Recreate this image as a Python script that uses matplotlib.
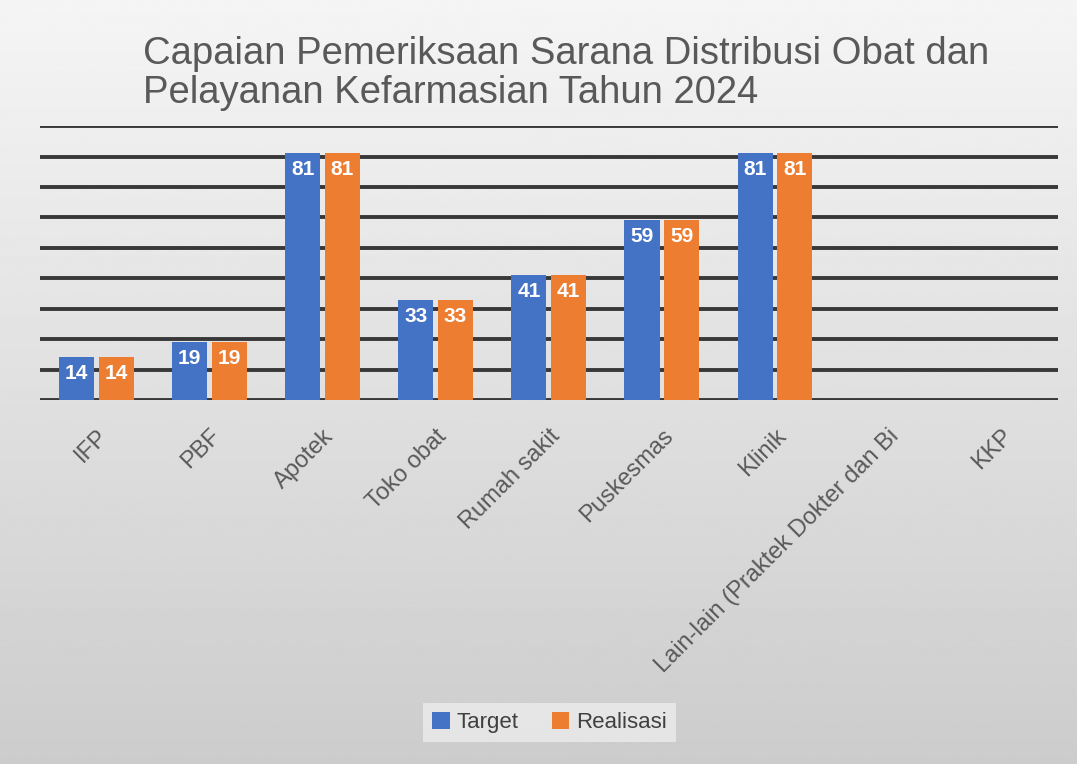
import matplotlib.pyplot as plt
import numpy as np

kategori = ["IFP", "PBF", "Apotek", "Toko obat", "Rumah sakit", "Puskesmas",
            "Klinik", "Lain-lain (Praktek Dokter dan Bi", "KKP"]
target = [14, 19, 81, 33, 41, 59, 81, 0, 0]
realisasi = [14, 19, 81, 33, 41, 59, 81, 0, 0]

plt.rcParams['font.family'] = ['Liberation Sans', 'DejaVu Sans']

fig = plt.figure(figsize=(10.77, 7.64), dpi=100)

# latar belakang gradasi
bg = fig.add_axes([0, 0, 1, 1], zorder=-1)
grad = np.linspace(0.96, 0.80, 256).reshape(-1, 1)
bg.imshow(grad, aspect='auto', cmap='gray', vmin=0, vmax=1, extent=[0, 1, 0, 1])
bg.axis('off')

ax = fig.add_axes([0.037, 0.4764, 0.945, 0.3586])
ax.set_facecolor('none')

ind = np.arange(len(kategori))
width = 0.31
rects1 = ax.bar(ind - width/2 - 0.02, target, width, color='#4472C4', label='Target', zorder=3)
rects2 = ax.bar(ind + width/2 + 0.02, realisasi, width, color='#ED7D31', label='Realisasi', zorder=3)

ax.set_xlim(-0.5, len(kategori) - 0.5)
ax.set_ylim(0, 90)
ax.set_yticks(np.arange(0, 91, 10))
ax.set_yticklabels([])
ax.tick_params(axis='y', length=0)
ax.tick_params(axis='x', length=0, pad=18)
ax.grid(axis='y', color='#383838', linewidth=2.8, zorder=0)
for s in ax.spines.values():
    s.set_visible(False)

ax.set_xticks(ind)
ax.set_xticklabels(kategori, rotation=45, ha='right', rotation_mode='anchor',
                   fontsize=17, color='#595959')

def autolabel(rects):
    for rect in rects:
        h = rect.get_height()
        if h > 0:
            ax.text(rect.get_x() + rect.get_width()/2, h - 2.3, '{}'.format(h),
                    ha='center', va='top', color='white', fontsize=15,
                    fontweight='bold', zorder=4)

autolabel(rects1)
autolabel(rects2)

fig.text(0.133, 0.953, 'Capaian Pemeriksaan Sarana Distribusi Obat dan\nPelayanan Kefarmasian Tahun 2024',
         ha='left', va='top', fontsize=27.5, color='#595959', linespacing=1.12)

leg = fig.legend(loc='center', bbox_to_anchor=(0.51, 0.054), ncol=2, frameon=True,
                 fontsize=16, handlelength=0.8, handleheight=0.8, handletextpad=0.3,
                 columnspacing=1.5, fancybox=False, borderpad=0.4)
leg.get_frame().set_facecolor('#ececec')
leg.get_frame().set_edgecolor('none')
for t in leg.get_texts():
    t.set_color('#404040')

plt.savefig('out.png', dpi=100)
